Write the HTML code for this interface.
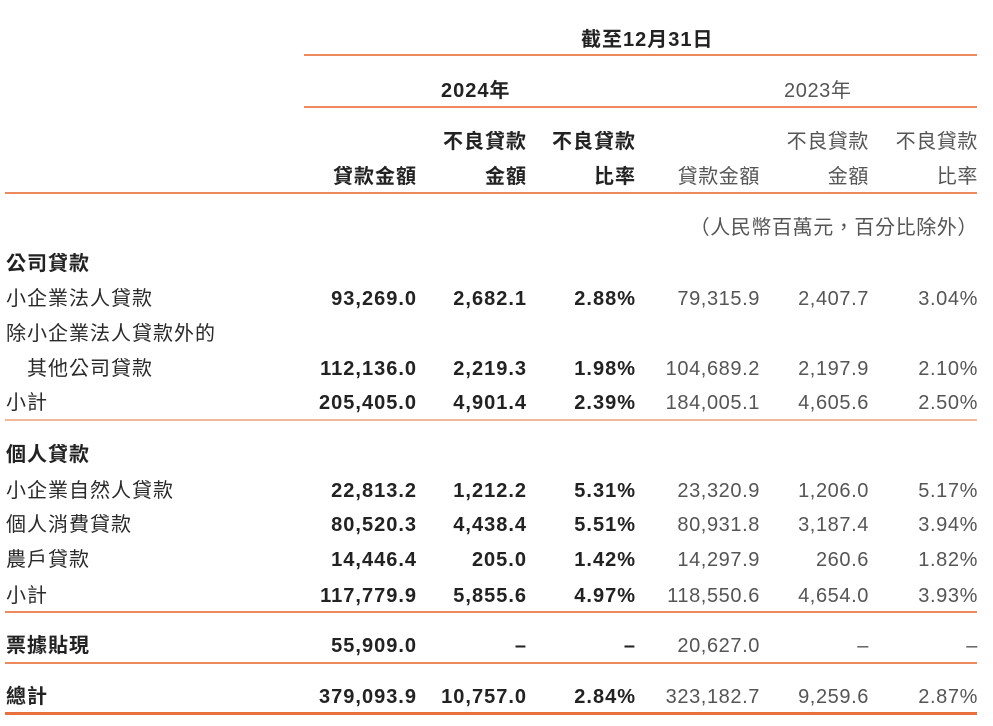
<!DOCTYPE html>
<html><head><meta charset="utf-8">
<style>
body{margin:0;background:#fff;width:993px;height:726px;position:relative;overflow:hidden;font-family:"Liberation Sans","Noto Sans CJK TC",sans-serif;font-size:20px;letter-spacing:1px;color:#2a2a2a}
.t{position:absolute;white-space:nowrap;line-height:24px}
.b{font-weight:bold;color:#222}
.g{color:#555;letter-spacing:0.6px}
.ln{position:absolute;height:1.5px;background:#ec8a5e}
</style></head><body>
<div class="ln" style="left:304px;top:54px;width:673px"></div>
<div class="ln" style="left:304px;top:106px;width:673px"></div>
<div class="ln" style="left:5px;top:192px;width:972px"></div>
<div class="ln" style="left:5px;top:419px;width:972px;background:#f0b898"></div>
<div class="ln" style="left:5px;top:611px;width:972px"></div>
<div class="ln" style="left:5px;top:662px;width:972px"></div>
<div class="ln" style="left:5px;top:712px;width:972px;height:2.5px;background:#e8703a"></div>
<script>
const rightEdges=[416,526,635,759,868,977];
function put(txt,x,y,cls,name,right){
  const d=document.createElement('div');
  d.className='t '+cls;
  d.textContent=txt;
  if(right){d.style.right=(993-x-1)+'px';}else{d.style.left=x+'px';}
  d.style.top=(y-12)+'px';
  
  
  document.body.appendChild(d);
}
put('截至12月31日',581,40,'b','header-period',false);
put('2024年',441,91,'b','header-2024',false);
put('2023年',784,91,'g','header-2023',false);
const h1=['','不良貸款','不良貸款','','不良貸款','不良貸款'];
const h2=['貸款金額','金額','比率','貸款金額','金額','比率'];
for(let i=0;i<6;i++){
  const c=i<3?'b':'g';
  if(h1[i])put(h1[i],rightEdges[i],142,c,'col-header-top',true);
  put(h2[i],rightEdges[i],177,c,'col-header',true);
}
put('（人民幣百萬元，百分比除外）',977,228,'g','unit-note',true);
const rows=[
 ['公司貸款',264,'b',null],
 ['小企業法人貸款',299,'',['93,269.0','2,682.1','2.88%','79,315.9','2,407.7','3.04%']],
 ['除小企業法人貸款外的',334,'',null],
 ['　其他公司貸款',369,'',['112,136.0','2,219.3','1.98%','104,689.2','2,197.9','2.10%']],
 ['小計',403,'',['205,405.0','4,901.4','2.39%','184,005.1','4,605.6','2.50%']],
 ['個人貸款',455,'b',null],
 ['小企業自然人貸款',491,'',['22,813.2','1,212.2','5.31%','23,320.9','1,206.0','5.17%']],
 ['個人消費貸款',525,'',['80,520.3','4,438.4','5.51%','80,931.8','3,187.4','3.94%']],
 ['農戶貸款',560,'',['14,446.4','205.0','1.42%','14,297.9','260.6','1.82%']],
 ['小計',596,'',['117,779.9','5,855.6','4.97%','118,550.6','4,654.0','3.93%']],
 ['票據貼現',646,'b',['55,909.0','–','–','20,627.0','–','–']],
 ['總計',697,'b',['379,093.9','10,757.0','2.84%','323,182.7','9,259.6','2.87%']]
];
rows.forEach(r=>{
  put(r[0],6,r[1],r[2]||'','row-label',false);
  if(r[3])r[3].forEach((v,i)=>put(v,rightEdges[i],r[1],i<3?'b':'g','cell-value',true));
});
</script>
</body></html>
